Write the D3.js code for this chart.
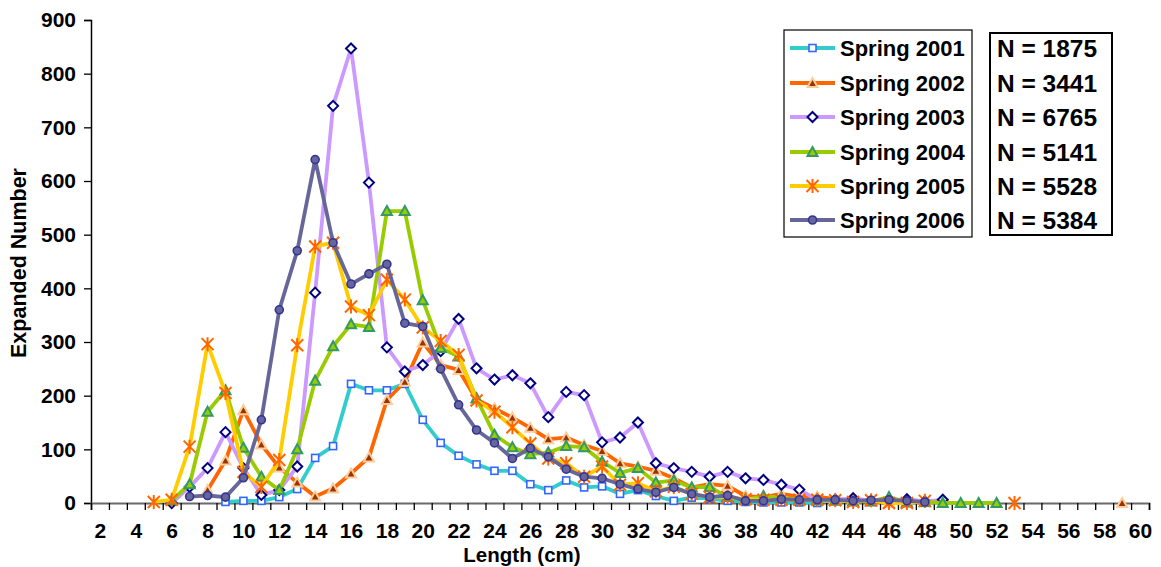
<!DOCTYPE html>
<html><head><meta charset="utf-8">
<script src="https://cdn.jsdelivr.net/npm/d3@7/dist/d3.min.js"></script>
<style>
body{margin:0;background:#fff}
svg{display:block}
text{font-family:"Liberation Sans",Arial,sans-serif;font-weight:bold;fill:#000}
</style>
</head><body>
<svg id="chart" width="1161" height="567"></svg>
<script>
// ---- data (lengths in cm, expanded numbers) ----
const lengths = [5,6,7,8,9,10,11,12,13,14,15,16,17,18,19,20,21,22,23,24,25,26,27,28,29,30,31,32,33,34,35,36,37,38,39,40,41,42,43,44,45,46,47,48,49,50,51,52,53,54,55,56,57,58,59];
const spring2001 = [null,null,null,null,2,4,4,11,26,84,106,222,210,210,222,155,112,88,72,60,60,35,24,42,29,31,17,24,13,4,10,8,4,2,1,1,1,0,null,null,null,null,null,null,null,null,null,null,null,null,null,null,null,null,null];
const spring2002 = [null,null,null,24,79,173,109,66,38,12,27,55,85,192,226,299,257,248,193,176,159,140,119,122,108,97,74,68,60,46,29,35,32,13,11,17,12,12,7,5,3,0,1,1,null,null,null,null,null,null,null,null,null,null,0];
const spring2003 = [null,0,30,65,132,65,15,24,68,392,740,847,597,290,245,257,283,343,251,230,238,223,160,207,201,113,122,150,74,65,58,49,58,46,43,34,25,6,6,9,4,5,7,3,6,null,null,null,null,null,null,null,null,null,null];
const spring2004 = [null,5,35,170,210,103,49,24,100,228,292,333,328,544,544,378,289,273,195,127,104,91,94,106,104,77,56,65,38,42,29,30,11,6,13,10,6,5,4,3,3,11,1,2,0,0,0,0,null,null,null,null,null,null,null];
const spring2005 = [2,6,105,296,205,58,30,80,294,478,485,366,350,416,379,327,302,276,191,170,141,111,83,74,49,68,34,37,22,30,17,11,11,7,6,6,6,6,5,2,5,0,0,4,null,null,null,null,0,null,null,null,null,null,null];
const spring2006 = [null,null,12,14,11,47,155,360,470,640,485,408,427,445,335,329,250,183,136,112,83,102,86,63,49,46,35,26,20,29,17,11,14,4,4,7,6,6,6,4,5,6,4,2,null,null,null,null,null,null,null,null,null,null,null];
const seriesNames = ["Spring 2001","Spring 2002","Spring 2003","Spring 2004","Spring 2005","Spring 2006"];
const sampleSizes = ["N = 1875","N = 3441","N = 6765","N = 5141","N = 5528","N = 5384"];
const yTickValues = [0,100,200,300,400,500,600,700,800,900];
const xTickLabels = [2,4,6,8,10,12,14,16,18,20,22,24,26,28,30,32,34,36,38,40,42,44,46,48,50,52,54,56,58,60];

// ---- styles ----
const styles = [
  {line:"#33CCCC", marker:"square",   fill:"#FFFFFF", stroke:"#3366FF"},
  {line:"#FF6600", marker:"triangle", fill:"#993300", stroke:"#FFCC99"},
  {line:"#CC99FF", marker:"diamond",  fill:"#FFFFFF", stroke:"#000080"},
  {line:"#99CC00", marker:"triangle", fill:"#99CC00", stroke:"#339966"},
  {line:"#FFCC00", marker:"star",     fill:"none",    stroke:"#FF6600"},
  {line:"#666699", marker:"circle",   fill:"#666699", stroke:"#333399"}
];
const allSeries = [spring2001,spring2002,spring2003,spring2004,spring2005,spring2006];

const svg = d3.select("#chart");
const plotLeft = 91, plotRight = 1149, plotTop = 20, plotBottom = 503;

const x = d3.scaleLinear().domain([1.5, 60.5]).range([plotLeft, plotRight]);
const y = d3.scaleLinear().domain([0, 900]).range([plotBottom, plotTop]);

// ---- axes ----
const yAxis = d3.axisLeft(y).tickValues(yTickValues).tickSize(7).tickPadding(8).tickFormat(d3.format("d"));
const gy = svg.append("g").attr("transform", `translate(${plotLeft},0)`).call(yAxis);
gy.select(".domain").attr("stroke","#000").attr("stroke-width",1.5);
gy.selectAll(".tick line").attr("stroke","#000").attr("stroke-width",1.3);
gy.selectAll(".tick text").style("font-size","21px").style("font-family","'Liberation Sans',Arial,sans-serif").style("font-weight","bold").attr("fill","#000");

const bounds = [];
for (let i = 0; i <= 59; i++) bounds.push(1.5 + i);
const xAxisTicks = d3.axisBottom(x).tickValues(bounds).tickSize(7).tickFormat("");
const gxt = svg.append("g").attr("transform", `translate(0,${plotBottom})`).call(xAxisTicks);
gxt.select(".domain").attr("stroke","#6a6a6a").attr("stroke-width",2);
gxt.selectAll(".tick line").attr("stroke","#000").attr("stroke-width",1.3);

const xAxisLabels = d3.axisBottom(x).tickValues(xTickLabels).tickSize(0).tickPadding(20.5).tickFormat(d3.format("d"));
const gxl = svg.append("g").attr("transform", `translate(0,${plotBottom})`).call(xAxisLabels);
gxl.select(".domain").remove();
gxl.selectAll(".tick text").style("font-size","21px").style("font-family","'Liberation Sans',Arial,sans-serif").style("font-weight","bold").attr("fill","#000");

// axis titles
svg.append("text").attr("x", 522).attr("y", 562).attr("text-anchor","middle")
  .style("font-size","20.5px").text("Length (cm)");
svg.append("text").attr("transform", `translate(26,263) rotate(-90)`).attr("text-anchor","middle")
  .style("font-size","21.5px").text("Expanded Number");

// ---- markers ----
function drawMarker(g, type, st, cx, cy) {
  if (type === "square") {
    g.append("rect").attr("x",cx-3.5).attr("y",cy-3.5).attr("width",7).attr("height",7)
      .attr("fill",st.fill).attr("stroke",st.stroke).attr("stroke-width",1.6);
  } else if (type === "triangle") {
    g.append("path").attr("d",`M${cx},${cy-5} L${cx+5},${cy+4} L${cx-5},${cy+4} Z`)
      .attr("fill",st.fill).attr("stroke",st.stroke).attr("stroke-width",2);
  } else if (type === "diamond") {
    g.append("path").attr("d",`M${cx},${cy-5} L${cx+5},${cy} L${cx},${cy+5} L${cx-5},${cy} Z`)
      .attr("fill",st.fill).attr("stroke",st.stroke).attr("stroke-width",2);
  } else if (type === "star") {
    g.append("path").attr("d",`M${cx},${cy-7} L${cx},${cy+7} M${cx-6},${cy-6} L${cx+6},${cy+6} M${cx-6},${cy+6} L${cx+6},${cy-6}`)
      .attr("fill","none").attr("stroke",st.stroke).attr("stroke-width",2);
  } else if (type === "circle") {
    g.append("circle").attr("cx",cx).attr("cy",cy).attr("r",4)
      .attr("fill",st.fill).attr("stroke",st.stroke).attr("stroke-width",1.6);
  }
}

// ---- series ----
const line = d3.line().defined(d => d.v !== null).x(d => x(d.l)).y(d => y(d.v));
allSeries.forEach((vals, si) => {
  const st = styles[si];
  const data = lengths.map((l, i) => ({l, v: vals[i]}));
  const g = svg.append("g");
  g.append("path").datum(data).attr("d", line).attr("fill","none")
    .attr("stroke", st.line).attr("stroke-width", 3.8).attr("stroke-linejoin","round");
  data.filter(d => d.v !== null).forEach(d => drawMarker(g, st.marker, st, x(d.l), y(d.v)));
});

// ---- legend ----
const legendRowsY = [48, 83, 117, 152, 186, 220];
svg.append("rect").attr("x",784).attr("y",30).attr("width",188).attr("height",207)
  .attr("fill","#fff").attr("stroke","#000").attr("stroke-width",1.2);
seriesNames.forEach((name, i) => {
  const st = styles[i];
  const g = svg.append("g");
  const cy = legendRowsY[i];
  g.append("line").attr("x1",790).attr("x2",835).attr("y1",cy).attr("y2",cy)
    .attr("stroke",st.line).attr("stroke-width",3.8);
  drawMarker(g, st.marker, st, 812.5, cy);
  g.append("text").attr("x",840).attr("y",cy+8).style("font-size","22px").text(name);
});

svg.append("rect").attr("x",990).attr("y",33).attr("width",122).attr("height",202)
  .attr("fill","#fff").attr("stroke","#000").attr("stroke-width",2);
sampleSizes.forEach((t, i) => {
  svg.append("text").attr("x",997).attr("y",legendRowsY[i]+9).style("font-size","24.5px").text(t);
});
</script>
</body></html>
